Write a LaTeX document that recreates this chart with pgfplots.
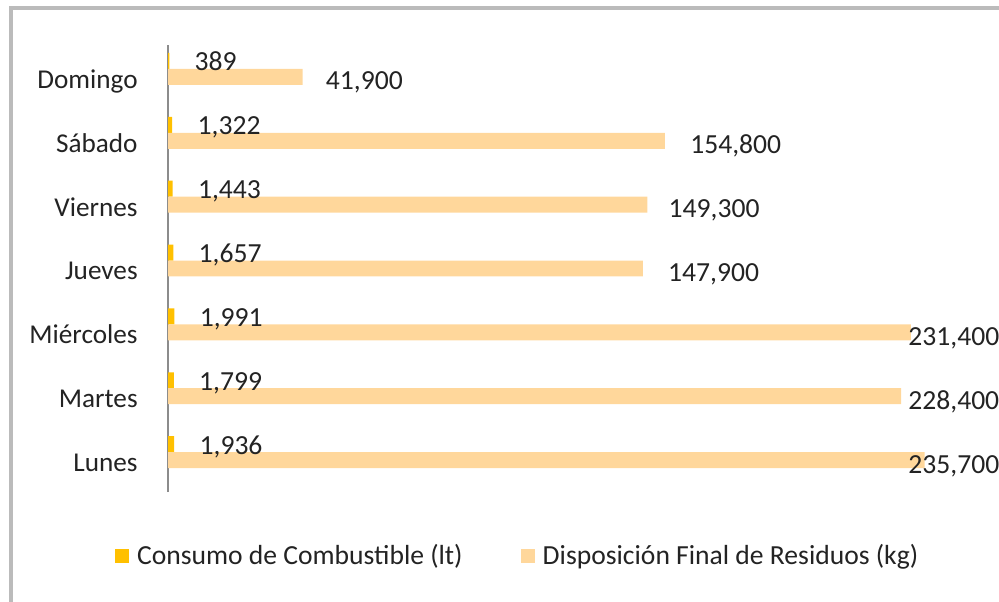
\documentclass[border=0pt]{standalone}
\usepackage{fontspec}
\setmainfont{Carlito}
\usepackage{pgfplots}
\usepackage{pgfplotstable}
\pgfplotsset{compat=1.18}
\definecolor{fuel}{RGB}{255,192,0}
\definecolor{resid}{RGB}{255,215,155}
\definecolor{framegray}{RGB}{187,187,187}
\definecolor{axisgray}{RGB}{140,140,140}
\definecolor{txt}{RGB}{35,35,35}
\pgfplotstableread{
y fuel res dxr
0 1936 235700 -8.3
1 1799 228400 3.4
2 1991 231400 -1.4
3 1657 147900 12.5
4 1443 149300 10.5
5 1322 154800 12.5
6 389 41900 11.5
}\datatable
\begin{document}
\begin{tikzpicture}
\useasboundingbox (0,0) rectangle (499.5pt,300.5pt);
\draw[framegray, line width=2pt] (5.25pt,-2pt) -- (5.25pt,296.25pt) -- (502pt,296.25pt);
\begin{axis}[
  at={(84pt,54.5pt)}, anchor=south west,
  scale only axis, width=401.25pt, height=223.5pt,
  xmin=0, xmax=250000, ymin=-0.5, ymax=6.5,
  clip=false,
  axis x line=none, axis y line*=left,
  y axis line style={axisgray, line width=1pt, -},
  ytick={-0.178,0.822,1.822,2.822,3.822,4.822,5.822},
  yticklabels={Lunes,Martes,Miércoles,Jueves,Viernes,Sábado,Domingo},
  major tick length=0pt,
  ytick style={draw=none},
  yticklabel style={anchor=base east, inner sep=0pt, xshift=-15pt, text=txt, font=\fontsize{13.6}{16}\selectfont},
  xbar, bar width=0.25,
  point meta=x,
  /pgf/number format/.cd, fixed, precision=0, 1000 sep={,}, assume math mode=true,
  /pgfplots/.cd,
  nodes near coords={\pgfmathprintnumber{\pgfplotspointmeta}},
  nodes near coords style={text=txt, font=\fontsize{13.8}{16}\selectfont, inner sep=0pt, anchor=base west},
  legend style={at={(0.437,-0.1432)}, anchor=center, draw=none, fill=none,
    legend columns=2, font=\fontsize{13.8}{16}\selectfont, text=txt,
    /tikz/every odd column/.append style={column sep=2pt},
    /tikz/every even column/.append style={column sep=27pt}},
  legend image code/.code={\fill[#1] (0pt,-3.5pt) rectangle (7pt,3.5pt);},
]
\addplot[fill=fuel, draw=none, bar shift=0.25,
  every node near coord/.append style={xshift=12.5pt, yshift=-5pt}]
  table[x=fuel, y=y] {\datatable};
\addlegendentry{Consumo de Combustible (lt)}
\addplot[fill=resid, draw=none, bar shift=0,
  visualization depends on={\thisrow{dxr} \as \dx},
  every node near coord/.append style={xshift=\dx pt, yshift=-6.5pt}]
  table[x=res, y=y] {\datatable};
\addlegendentry{Disposición Final de Residuos (kg)}
\end{axis}
\end{tikzpicture}
\end{document}
